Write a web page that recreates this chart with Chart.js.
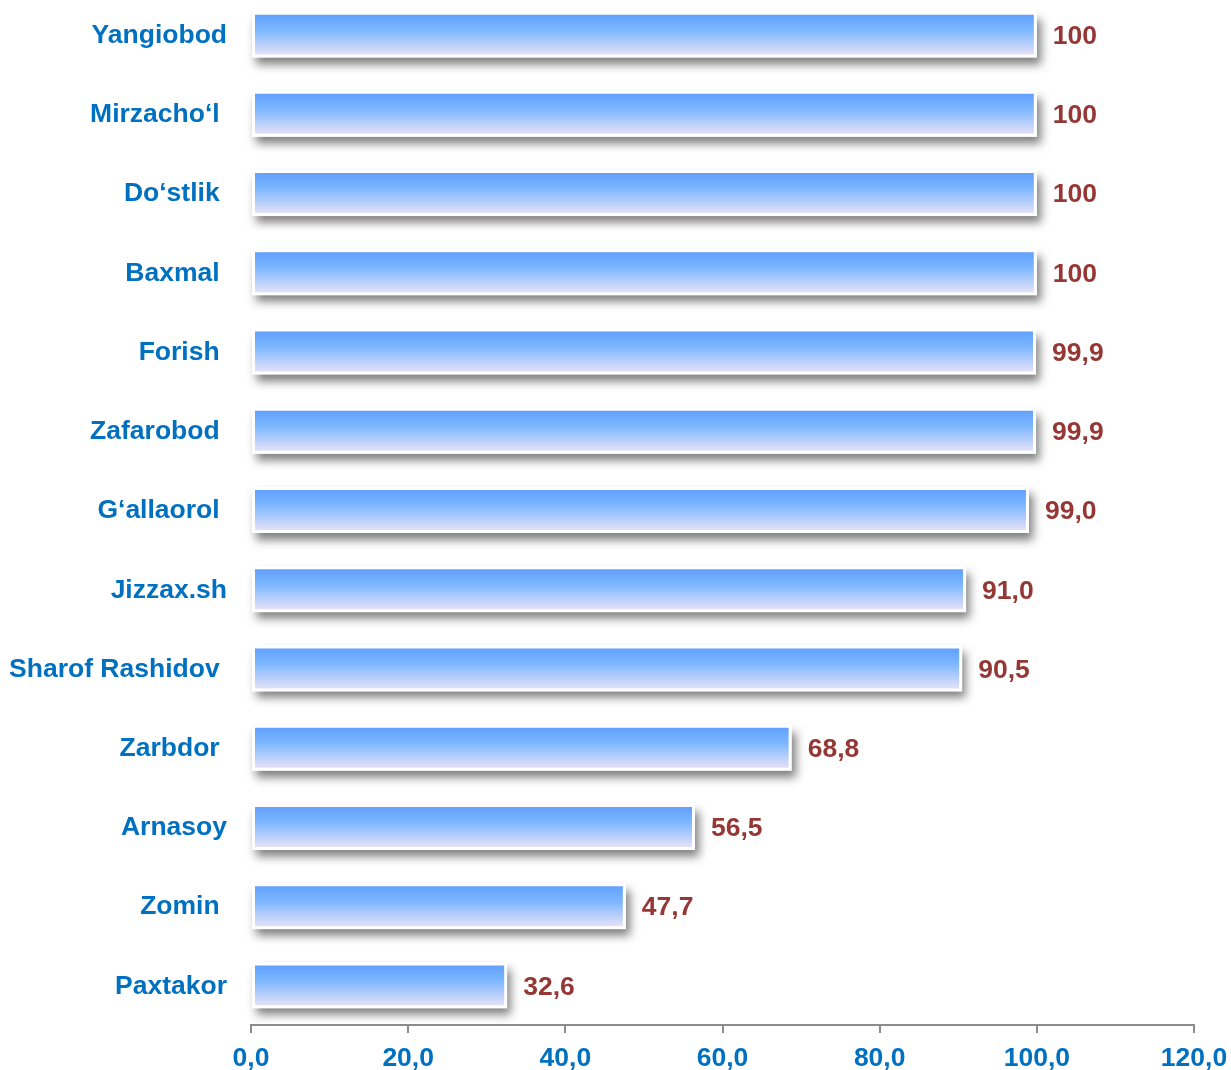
<!DOCTYPE html>
<html>
<head>
<meta charset="utf-8">
<script src="https://cdn.jsdelivr.net/npm/chart.js@4/dist/chart.umd.min.js"></script>
<style>
    body { margin: 0; background: #fff; }
    #wrap { position: relative; width: 1231px; height: 1070px; overflow: hidden; }
    #grafica { position: absolute; left: 0; top: -5px; }
</style>
</head>
<body>
<div id="wrap"><canvas id="grafica" width="1231" height="1075"></canvas></div>
<script>
// tumanlar (trailing space = how the original labels sit)
const tumanlar = ['Yangiobod', 'Mirzacho‘l ', 'Do‘stlik ', 'Baxmal ', 'Forish ', 'Zafarobod ',
    'G‘allaorol ', 'Jizzax.sh', 'Sharof Rashidov ', 'Zarbdor ', 'Arnasoy', 'Zomin ', 'Paxtakor'];
const qiymatlar = [100, 100, 100, 100, 99.9, 99.9, 99.0, 91.0, 90.5, 68.8, 56.5, 47.7, 32.6];
const qiymatYozuvlari = ['100', '100', '100', '100', '99,9', '99,9', '99,0', '91,0', '90,5', '68,8', '56,5', '47,7', '32,6'];
const xYozuvlari = ['0,0', '20,0', '40,0', '60,0', '80,0', '100,0', '120,0'];

const shrift = '"Liberation Sans", Arial, sans-serif';
const barPct = 0.58;

function gradient(context) {
    const chart = context.chart;
    const area = chart.chartArea;
    const y = chart.scales && chart.scales.y;
    if (!area || !y || context.dataIndex === undefined) return '#80b9ff';
    const cy = y.getPixelForValue(context.dataIndex);
    const h = (area.bottom - area.top) / tumanlar.length * barPct;
    const g = chart.ctx.createLinearGradient(0, cy - h / 2, 0, cy + h / 2);
    g.addColorStop(0, '#5c9cff');
    g.addColorStop(0.4, '#7db7ff');
    g.addColorStop(1, '#f0e6f6');
    return g;
}

// soya (drop shadow behind each bar) + value labels
const soyaPlugin = {
    id: 'soya',
    beforeDatasetsDraw(chart) {
        const ctx = chart.ctx;
        const meta = chart.getDatasetMeta(0);
        ctx.save();
        ctx.shadowColor = 'rgba(0,0,0,0.5)';
        ctx.shadowBlur = 9;
        ctx.shadowOffsetX = 4;
        ctx.shadowOffsetY = 7;
        ctx.fillStyle = '#ffffff';
        meta.data.forEach(bar => {
            const p = bar.getProps(['x', 'y', 'base', 'height'], true);
            ctx.fillRect(p.base, p.y - p.height / 2, p.x - p.base, p.height);
        });
        ctx.restore();
    },
    afterDatasetsDraw(chart) {
        const ctx = chart.ctx;
        const meta = chart.getDatasetMeta(0);
        ctx.save();
        ctx.font = 'bold 26.5px ' + shrift;
        ctx.fillStyle = '#953735';
        ctx.textAlign = 'left';
        ctx.textBaseline = 'middle';
        meta.data.forEach((bar, i) => {
            ctx.fillText(qiymatYozuvlari[i], bar.x + 16, bar.y + 2);
        });
        ctx.restore();
    }
};

const ctx = document.getElementById('grafica').getContext('2d');
new Chart(ctx, {
    type: 'bar',
    data: {
        labels: tumanlar,
        datasets: [{
            data: qiymatlar,
            backgroundColor: gradient,
            borderColor: '#ffffff',
            borderWidth: 3,
            borderSkipped: false,
            barPercentage: barPct,
            categoryPercentage: 1
        }]
    },
    options: {
        indexAxis: 'y',
        responsive: false,
        animation: false,
        layout: { padding: { left: 0, right: 37, top: 0, bottom: 0 } },
        plugins: { legend: { display: false }, tooltip: { enabled: false } },
        scales: {
            x: {
                min: 0,
                max: 120,
                ticks: {
                    stepSize: 20,
                    color: '#0070c0',
                    font: { family: shrift, size: 26.5, weight: 'bold' },
                    padding: 10,
                    maxRotation: 0,
                    callback: (v, i) => xYozuvlari[i]
                },
                grid: { display: true, drawOnChartArea: false, drawTicks: true, tickLength: 8, color: '#8c8c8c', lineWidth: 2 },
                border: { display: true, color: '#8c8c8c', width: 2 },
                afterFit: scale => {
                    scale.height = 45;
                    scale.paddingLeft = 0;
                    scale.paddingRight = 0;
                }
            },
            y: {
                ticks: {
                    color: '#0070c0',
                    font: { family: shrift, size: 26.5, weight: 'bold' },
                    padding: 24,
                    labelOffset: 1
                },
                grid: { display: false, drawTicks: false },
                border: { display: false },
                afterFit: scale => {
                    scale.width = 251;
                    scale.paddingTop = 0;
                    scale.paddingBottom = 0;
                }
            }
        }
    },
    plugins: [soyaPlugin]
});
</script>
</body>
</html>
